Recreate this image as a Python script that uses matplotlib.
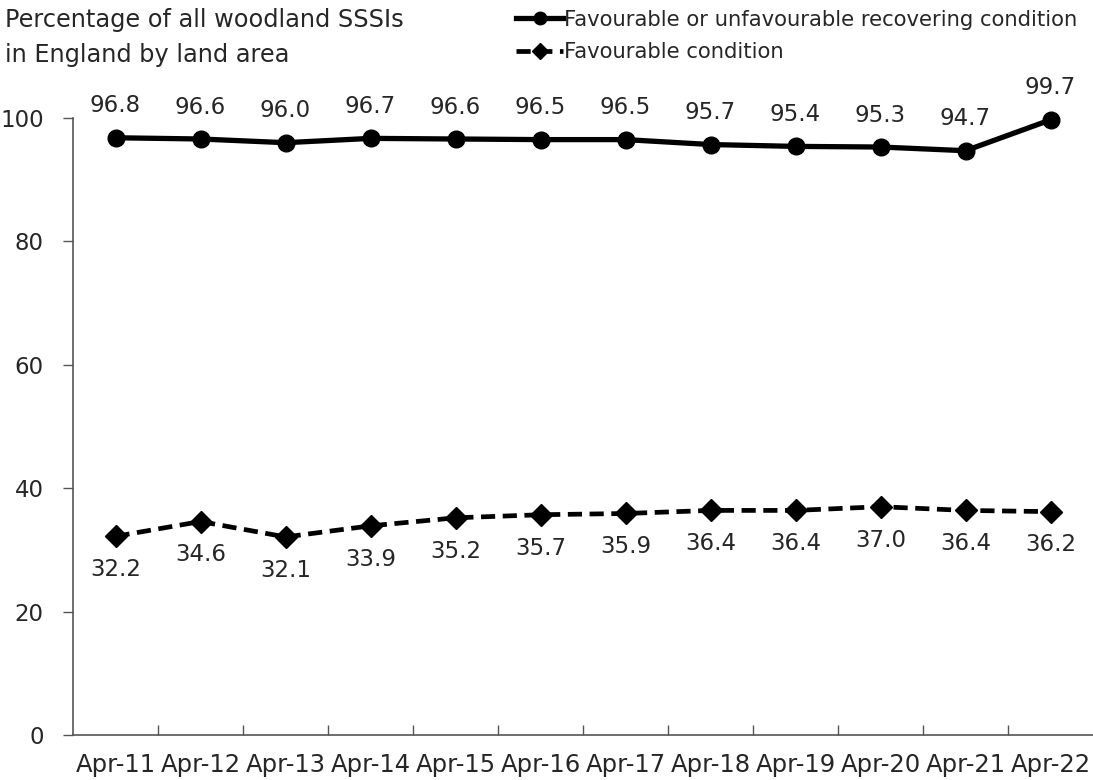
import numpy as np
import matplotlib.pyplot as plt
from matplotlib.ticker import FixedLocator

plt.rcParams.update({
    "font.family": "DejaVu Sans",
    "font.size": 16,
})

TEXT = "#262626"

years = ["Apr-11", "Apr-12", "Apr-13", "Apr-14", "Apr-15", "Apr-16",
         "Apr-17", "Apr-18", "Apr-19", "Apr-20", "Apr-21", "Apr-22"]
fav_or_recovering = [96.8, 96.6, 96.0, 96.7, 96.6, 96.5, 96.5, 95.7, 95.4, 95.3, 94.7, 99.7]
favourable = [32.2, 34.6, 32.1, 33.9, 35.2, 35.7, 35.9, 36.4, 36.4, 37.0, 36.4, 36.2]

fig = plt.figure(figsize=(10.93, 7.8), dpi=100)
ax = fig.add_axes([0.0668, 0.0577, 0.9332, 0.791])

x = np.arange(len(years))
l1, = ax.plot(x, fav_or_recovering, color="black", lw=3.8, marker="o", markersize=12,
              clip_on=False, zorder=3, label="Favourable or unfavourable recovering condition")
l2, = ax.plot(x, favourable, color="black", lw=3.4, ls=(0, (3, 1.6)), marker="D", markersize=11,
              clip_on=False, zorder=3, label="Favourable condition")

for i, v in enumerate(fav_or_recovering):
    ax.annotate(f"{v:.1f}", xy=(i, v), xytext=(0, 23), textcoords="offset points",
                ha="center", va="center", fontsize=16.5, color=TEXT)
for i, v in enumerate(favourable):
    ax.annotate(f"{v:.1f}", xy=(i, v), xytext=(0, -24), textcoords="offset points",
                ha="center", va="center", fontsize=16.5, color=TEXT)

ax.set_xlim(-0.5, len(years) - 0.5)
ax.set_ylim(0, 100)
ax.set_yticks([0, 20, 40, 60, 80, 100])
ax.set_xticks(x)
ax.set_xticklabels(years)
ax.xaxis.set_minor_locator(FixedLocator(np.arange(0.5, len(years) - 1, 1.0)))
ax.tick_params(axis="x", which="major", length=0, pad=13, labelsize=17.5, colors=TEXT)
ax.tick_params(axis="x", which="minor", direction="in", length=7, width=1, color="#555555")
ax.tick_params(axis="y", direction="out", length=7, width=1, color="#555555",
               labelsize=16.5, labelcolor=TEXT, pad=14)

for s in ["top", "right"]:
    ax.spines[s].set_visible(False)
for s in ["left", "bottom"]:
    ax.spines[s].set_color("#555555")
    ax.spines[s].set_linewidth(1.2)

fig.text(0.005, 0.99, "Percentage of all woodland SSSIs\nin England by land area",
         ha="left", va="top", fontsize=17.3, color=TEXT, linespacing=1.6)

leg = fig.legend(handles=[l1, l2], loc="upper left", bbox_to_anchor=(0.455, 1.012),
                 frameon=False, fontsize=15.2, handlelength=2.2, handletextpad=0.05,
                 labelspacing=0.6, labelcolor=TEXT, markerscale=0.75)

fig.savefig("out.png", dpi=100, facecolor="white")
